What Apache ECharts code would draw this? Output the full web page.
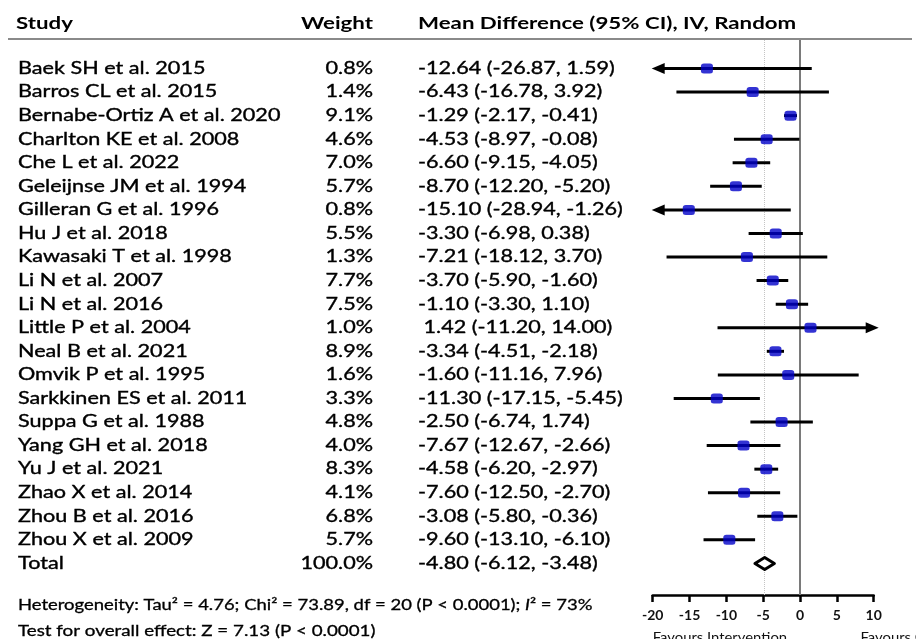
<!DOCTYPE html>
<html>
<head>
<meta charset="utf-8">
<script src="https://cdn.jsdelivr.net/npm/echarts@6/dist/echarts.min.js"></script>
<style>
html,body{margin:0;padding:0;background:#fff;}
#c{width:916px;height:639px;}
</style>
</head>
<body>
<div id="c"></div>
<script>
const studies = ["Baek SH et al. 2015","Barros CL et al. 2015","Bernabe-Ortiz A et al. 2020","Charlton KE et al. 2008","Che L et al. 2022","Geleijnse JM et al. 1994","Gilleran G et al. 1996","Hu J et al. 2018","Kawasaki T et al. 1998","Li N et al. 2007","Li N et al. 2016","Little P et al. 2004","Neal B et al. 2021","Omvik P et al. 1995","Sarkkinen ES et al. 2011","Suppa G et al. 1988","Yang GH et al. 2018","Yu J et al. 2021","Zhao X et al. 2014","Zhou B et al. 2016","Zhou X et al. 2009"];
const weights = [0.8,1.4,9.1,4.6,7.0,5.7,0.8,5.5,1.3,7.7,7.5,1.0,8.9,1.6,3.3,4.8,4.0,8.3,4.1,6.8,5.7];
const meanDiff = [-12.64,-6.43,-1.29,-4.53,-6.60,-8.70,-15.10,-3.30,-7.21,-3.70,-1.10,1.42,-3.34,-1.60,-11.30,-2.50,-7.67,-4.58,-7.60,-3.08,-9.60];
const ciLow = [-26.87,-16.78,-2.17,-8.97,-9.15,-12.20,-28.94,-6.98,-18.12,-5.90,-3.30,-11.20,-4.51,-11.16,-17.15,-6.74,-12.67,-6.20,-12.50,-5.80,-13.10];
const ciHigh = [1.59,3.92,-0.41,-0.08,-4.05,-5.20,-1.26,0.38,3.70,-1.60,1.10,14.00,-2.18,7.96,-5.45,1.74,-2.66,-2.97,-2.70,-0.36,-6.10];
const totalLabel = "Total";
const totalWeight = [100.0];
const totalMD = [-4.80];
const totalLow = [-6.12];
const totalHigh = [-3.48];
const xTicks = [-20,-15,-10,-5,0,5,10];
const headers = ["Study","Weight","Mean Difference (95% CI), IV, Random"];
const favours = ["Favours Intervention","Favours Control"];
const tau2 = 4.76, chi2 = 73.89, df = 20, i2 = 73, zVal = 7.13;

const XMIN = xTicks[0], XMAX = xTicks[xTicks.length-1];
const nRows = studies.length + 1;
const FONT = "Lato";
const SX = 1.31;

function f2(v){ return (v<0?"":" ") + v.toFixed(2); }
function ciText(m,l,h){ return f2(m) + " (" + l.toFixed(2) + ", " + h.toFixed(2) + ")"; }

const chart = echarts.init(document.getElementById('c'), null, {renderer:'canvas'});

const ciData = studies.map((s,i)=>[i, ciLow[i], ciHigh[i]]);
const ptData = studies.map((s,i)=>[meanDiff[i], i]);

chart.setOption({
  animation:false,
  backgroundColor:'#fff',
  grid:{left:652.7, right:42.3, top:40, bottom:44, containLabel:false},
  xAxis:{type:'value', min:XMIN, max:XMAX, interval:5,
    axisLine:{show:true, onZero:false, lineStyle:{color:'#000', width:2.5}},
    axisTick:{show:true, length:7, lineStyle:{color:'#000', width:2.5}},
    axisLabel:{color:'#111', fontFamily:FONT, fontWeight:'bold', fontSize:14, margin:13},
    splitLine:{show:false}},
  yAxis:{type:'value', inverse:true, min:-1.21, max:22.34, show:false},
  series:[
    {type:'custom', silent:true, z:2,
     data:ciData, encode:{x:[1,2], y:0},
     renderItem:function(params, api){
       const row=api.value(0), l=api.value(1), h=api.value(2);
       const lc=Math.max(l,XMIN), hc=Math.min(h,XMAX);
       const p1=api.coord([lc,row]), p2=api.coord([hc,row]);
       const children=[];
       let x1=p1[0], x2=p2[0];
       if(l<XMIN){
         children.push({type:'polygon', shape:{points:[[p1[0]-1,p1[1]],[p1[0]+12,p1[1]-5.5],[p1[0]+12,p1[1]+5.5]]}, style:{fill:'#000'}});
         x1=p1[0]+8;
       }
       if(h>XMAX){
         const tx=p2[0]+4;
         children.push({type:'polygon', shape:{points:[[tx+1,p2[1]],[tx-12,p2[1]-5.5],[tx-12,p2[1]+5.5]]}, style:{fill:'#000'}});
         x2=tx-8;
       }
       children.push({type:'line', shape:{x1:x1,y1:p1[1],x2:x2,y2:p2[1]}, style:{stroke:'#000', lineWidth:3}});
       return {type:'group', children:children};
     }},
    {type:'scatter', silent:true, z:3, data:ptData, symbol:'roundRect', symbolSize:[12,10],
     itemStyle:{color:'#0000c8'},
     markLine:{silent:true, symbol:['none','none'], label:{show:false}, z:1,
       data:[
         {xAxis:0, lineStyle:{color:'#7a7a7a', width:2, type:'solid'}},
         {xAxis:totalMD[0], lineStyle:{color:'#c4c4c4', width:1, type:'dotted'}}
       ]}},
    {type:'custom', silent:true, z:4,
     data:[[totalMD[0], totalLow[0], totalHigh[0], studies.length]],
     encode:{x:[0,1,2], y:3},
     renderItem:function(params, api){
       const m=api.value(0), l=api.value(1), h=api.value(2), r=api.value(3);
       const pm=api.coord([m,r]), pl=api.coord([l,r]), ph=api.coord([h,r]);
       return {type:'polygon', shape:{points:[[pl[0],pl[1]],[pm[0],pm[1]-6],[ph[0],ph[1]],[pm[0],pm[1]+6]]},
         style:{fill:'#fff', stroke:'#000', lineWidth:3, lineJoin:'round'}};
     }}
  ]
});

function yPx(i){ return chart.convertToPixel({yAxisIndex:0}, i); }
function xPx(v){ return chart.convertToPixel({xAxisIndex:0}, v); }

const g=[];
const txt = {fill:'#000', fontFamily:FONT, fontSize:16.5, stroke:'#000', lineWidth:0.35};
const hdr = {fill:'#000', fontFamily:FONT, fontSize:17, fontWeight:'bold'};
const COL_STUDY=18, COL_W=373, COL_CI=418;
function T(x,y,text,style,align,sx){
  return {type:'text', x:x, y:y, scaleX:sx||SX, scaleY:1,
    style:Object.assign({text:text, textAlign:align||'left', textVerticalAlign:'middle'}, style)};
}
g.push(T(16,24,headers[0],hdr,'left'));
g.push(T(COL_W,24,headers[1],hdr,'right'));
g.push(T(COL_CI,24,headers[2],hdr,'left'));
g.push({type:'line', shape:{x1:8,y1:39,x2:912,y2:39}, style:{stroke:'#8a8a8a', lineWidth:2}});

const rowsLabel = studies.concat([totalLabel]);
const rowsW = weights.concat(totalWeight);
const rowsCI = studies.map((s,i)=>ciText(meanDiff[i],ciLow[i],ciHigh[i])).concat([ciText(totalMD[0],totalLow[0],totalHigh[0])]);
for(let i=0;i<nRows;i++){
  const y=yPx(i);
  g.push(T(COL_STUDY,y,rowsLabel[i],txt,'left'));
  g.push(T(COL_W,y,rowsW[i].toFixed(1)+'%',txt,'right'));
  g.push(T(COL_CI,y,rowsCI[i],txt,'left'));
}
const foot = {fill:'#000', fontFamily:FONT, fontSize:15.5, stroke:'#000', lineWidth:0.3};
g.push(T(18,605,'Heterogeneity: Tau² = '+tau2.toFixed(2)+'; Chi² = '+chi2.toFixed(2)+', df = '+df+' (P < 0.0001); {i|I}² = '+i2+'%',
  Object.assign({rich:{i:{fontStyle:'italic', fontFamily:FONT, fontSize:15.5, fill:'#000', stroke:'#000', lineWidth:0.3}}}, foot),'left',1.19));
g.push(T(18,631,'Test for overall effect: Z = '+zVal.toFixed(2)+' (P < 0.0001)',foot,'left',1.21));
const fav = {fill:'#111', fontFamily:FONT, fontSize:13.5};
g.push(T(xPx(XMIN),638,favours[0],fav,'left',1.1));
g.push(T(xPx(8.2),638,favours[1],fav,'left',1.1));
chart.setOption({graphic:g});
</script>
</body>
</html>
